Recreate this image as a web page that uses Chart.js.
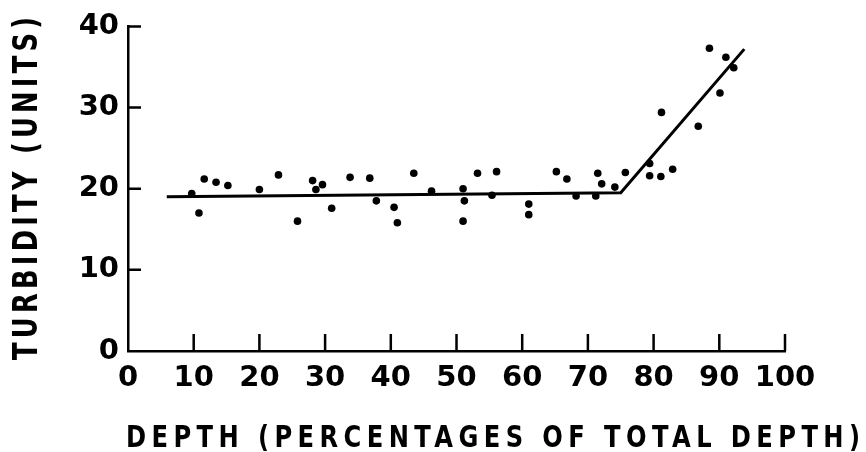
<!DOCTYPE html>
<html>
<head>
<meta charset="utf-8">
<script src="https://cdn.jsdelivr.net/npm/chart.js@4"></script>
<style>
  html, body { margin: 0; padding: 0; background: #fff; }
  #wrap { width: 866px; height: 452px; }
</style>
</head>
<body>
<div id="wrap"><canvas id="chart" width="866" height="452"></canvas></div>
<script>
// Sample points
const depthPct = [9.7, 10.8, 11.6, 13.4, 15.2, 20.0, 22.9, 25.8, 28.1, 28.6, 29.6, 31.0, 33.8, 36.8, 37.8,
  40.5, 41.0, 43.5, 46.2, 51.0, 51.2, 51.0, 53.2, 55.4, 56.1, 61.0, 61.0, 65.2, 66.8, 68.2,
  71.2, 71.5, 72.1, 74.1, 75.7, 79.4, 79.4, 81.1, 82.9, 81.2, 86.8, 90.1, 88.5, 91.0, 92.2];
const turbidity = [19.4, 17.0, 21.2, 20.8, 20.4, 19.9, 21.7, 16.0, 21.0, 19.9, 20.5, 17.6, 21.4, 21.3, 18.5,
  17.7, 15.8, 21.9, 19.7, 20.0, 18.5, 16.0, 21.9, 19.2, 22.1, 18.1, 16.8, 22.1, 21.2, 19.1,
  19.1, 21.9, 20.6, 20.2, 22.0, 23.1, 21.6, 21.5, 22.4, 29.4, 27.7, 31.8, 37.3, 36.2, 34.9];

// Broken-line fit
const fitDepth = [5.9, 75.0, 93.8];
const fitTurbidity = [19.0, 19.5, 37.2];

const xTickValues = [0, 10, 20, 30, 40, 50, 60, 70, 80, 90, 100];
const yTickValues = [0, 10, 20, 30, 40];

const xTitle = 'DEPTH (PERCENTAGES OF TOTAL DEPTH)';
const yTitle = 'TURBIDITY (UNITS)';

const FONT = '"DejaVu Sans", sans-serif';

const toPoints = (xs, ys) => xs.map((x, i) => ({ x, y: ys[i] }));

// lettering is narrow and widely spaced, so squeeze glyphs and spread them to a set width
const drawSpaced = (ctx, text, x, y, width, angle) => {
  const sx = 0.78;
  ctx.save();
  ctx.translate(x, y);
  ctx.rotate(angle);
  ctx.scale(sx, 1);
  ctx.letterSpacing = '0px';
  const w = ctx.measureText(text).width;
  const ls = (width / sx - w) / (text.length - 1);
  ctx.letterSpacing = ls + 'px';
  ctx.fillText(text, 0, 0);
  ctx.restore();
};

// draws inward tick marks and the axis titles
const paperPlugin = {
  id: 'paper',
  afterDraw: (chart) => {
    const ctx = chart.ctx;
    const xs = chart.scales.x, ys = chart.scales.y;
    const area = chart.chartArea;
    ctx.save();
    ctx.strokeStyle = '#000';
    ctx.lineWidth = 2.5;
    ctx.beginPath();
    xTickValues.forEach(v => {
      if (v === 0) return;
      const px = xs.getPixelForValue(v);
      ctx.moveTo(px, area.bottom);
      ctx.lineTo(px, area.bottom - 17);
    });
    yTickValues.forEach(v => {
      if (v === 0) return;
      const py = ys.getPixelForValue(v);
      ctx.moveTo(area.left, py);
      ctx.lineTo(area.left + 13, py);
    });
    ctx.stroke();

    ctx.fillStyle = '#000';
    ctx.textBaseline = 'alphabetic';
    ctx.textAlign = 'left';

    ctx.font = 'bold 31px ' + FONT;
    drawSpaced(ctx, xTitle, 126, 447, 734, 0);

    ctx.font = 'bold 33px ' + FONT;
    drawSpaced(ctx, yTitle, 37, 360, 343, -Math.PI / 2);
    ctx.restore();
  }
};

new Chart(document.getElementById('chart'), {
  type: 'scatter',
  data: {
    datasets: [
      {
        label: 'Turbidity',
        data: toPoints(depthPct, turbidity),
        backgroundColor: '#000',
        borderColor: '#000',
        pointRadius: 3.8,
        pointBorderWidth: 0
      },
      {
        label: 'Fit',
        data: toPoints(fitDepth, fitTurbidity),
        showLine: true,
        borderColor: '#000',
        borderWidth: 3,
        pointRadius: 0,
        fill: false
      }
    ]
  },
  plugins: [paperPlugin],
  options: {
    responsive: false,
    animation: false,
    layout: { padding: { top: 21, right: 81, left: 0, bottom: 0 } },
    plugins: { legend: { display: false }, tooltip: { enabled: false } },
    scales: {
      x: {
        type: 'linear',
        min: 0, max: 100,
        afterFit: (scale) => { scale.height = 101; },
        afterBuildTicks: (scale) => { scale.ticks = xTickValues.map(v => ({ value: v })); },
        grid: { display: false, drawTicks: false },
        border: { display: true, color: '#000', width: 2.5 },
        ticks: { color: '#000', padding: 10, maxRotation: 0, autoSkip: false, font: { family: FONT, size: 29, weight: 'bold' } }
      },
      y: {
        type: 'linear',
        min: 0, max: 40,
        afterFit: (scale) => { scale.width = 128; },
        afterBuildTicks: (scale) => { scale.ticks = yTickValues.map(v => ({ value: v })); },
        grid: { display: false, drawTicks: false },
        border: { display: true, color: '#000', width: 2.5 },
        ticks: { color: '#000', padding: 9, font: { family: FONT, size: 29, weight: 'bold' } }
      }
    }
  }
});
</script>
</body>
</html>
